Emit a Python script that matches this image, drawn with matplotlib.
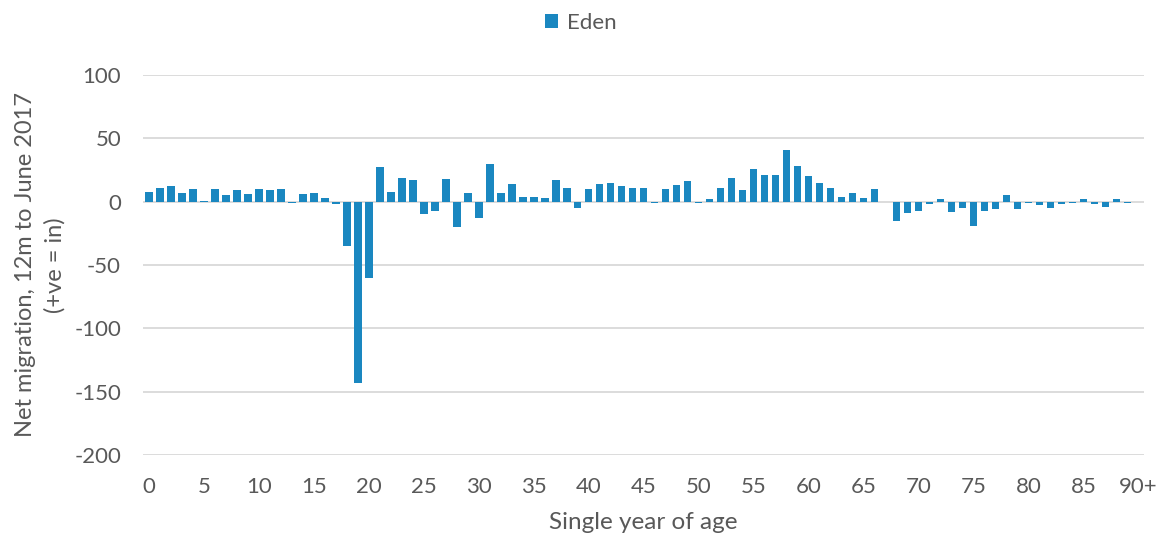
import matplotlib
matplotlib.use("Agg")
import matplotlib.pyplot as plt
from matplotlib.patches import Patch
import numpy as np

plt.rcParams['font.family'] = ['Lato', 'DejaVu Sans']

ages = [str(i) for i in range(90)] + ["90+"]
values = [8, 11, 12, 7, 10, 0.8, 10, 5, 9, 6,
          10, 9, 10, -0.8, 6, 7, 3, -2, -35, -143,
          -60, 27, 8, 19, 17, -10, -7, 18, -20, 7,
          -13, 30, 7, 14, 4, 4, 3, 17, 11, -5,
          10, 14, 15, 12, 11, 11, -0.8, 10, 13, 16,
          -0.8, 2, 11, 19, 9, 26, 21, 21, 41, 28,
          20, 15, 11, 4, 7, 3, 10, 0, -15, -9,
          -7, -2, 2, -8, -5, -19, -7, -6, 5, -6,
          -0.8, -3, -5, -2, -0.8, 2, -2, -4, 2, -0.8,
          0]
series_name = "Eden"
yticks = [100, 50, 0, -50, -100, -150, -200]

bar_color = "#1a87c0"
text_color = "#595959"
grid_color = "#d9d9d9"

fig = plt.figure(figsize=(11.62, 5.38), dpi=100)
ax = fig.add_axes([0.1233, 0.1543, 0.8612, 0.7063])

x = np.arange(len(ages))
ax.bar(x, values, width=0.7, color=bar_color, zorder=3)

ax.set_xlim(-0.5, len(ages) - 0.5)
ax.set_ylim(-200, 100)
ax.set_yticks(yticks)
ax.set_yticklabels([str(v) for v in yticks])
ax.set_xticks(x[::5])
ax.set_xticklabels(ages[::5])

for v in yticks:
    ax.axhline(v, color=grid_color, linewidth=1.3, zorder=1)

for s in ax.spines.values():
    s.set_visible(False)
ax.tick_params(axis='both', length=0, colors=text_color, labelsize=16)
ax.tick_params(axis='y', pad=16)
ax.tick_params(axis='x', pad=16)

ax.set_xlabel("Single year of age", fontsize=17.5, color=text_color, labelpad=11)
ax.set_ylabel("Net migration, 12m to June 2017\n(+ve = in)", fontsize=17,
              color=text_color, labelpad=6, linespacing=1.5)

fig.legend(handles=[Patch(facecolor=bar_color, label=series_name)],
           loc='center', bbox_to_anchor=(0.5, 0.958), frameon=False,
           fontsize=16, labelcolor=text_color, handlelength=0.6,
           handleheight=0.6, handletextpad=0.4)

fig.savefig("out.png", dpi=100, facecolor="white")
